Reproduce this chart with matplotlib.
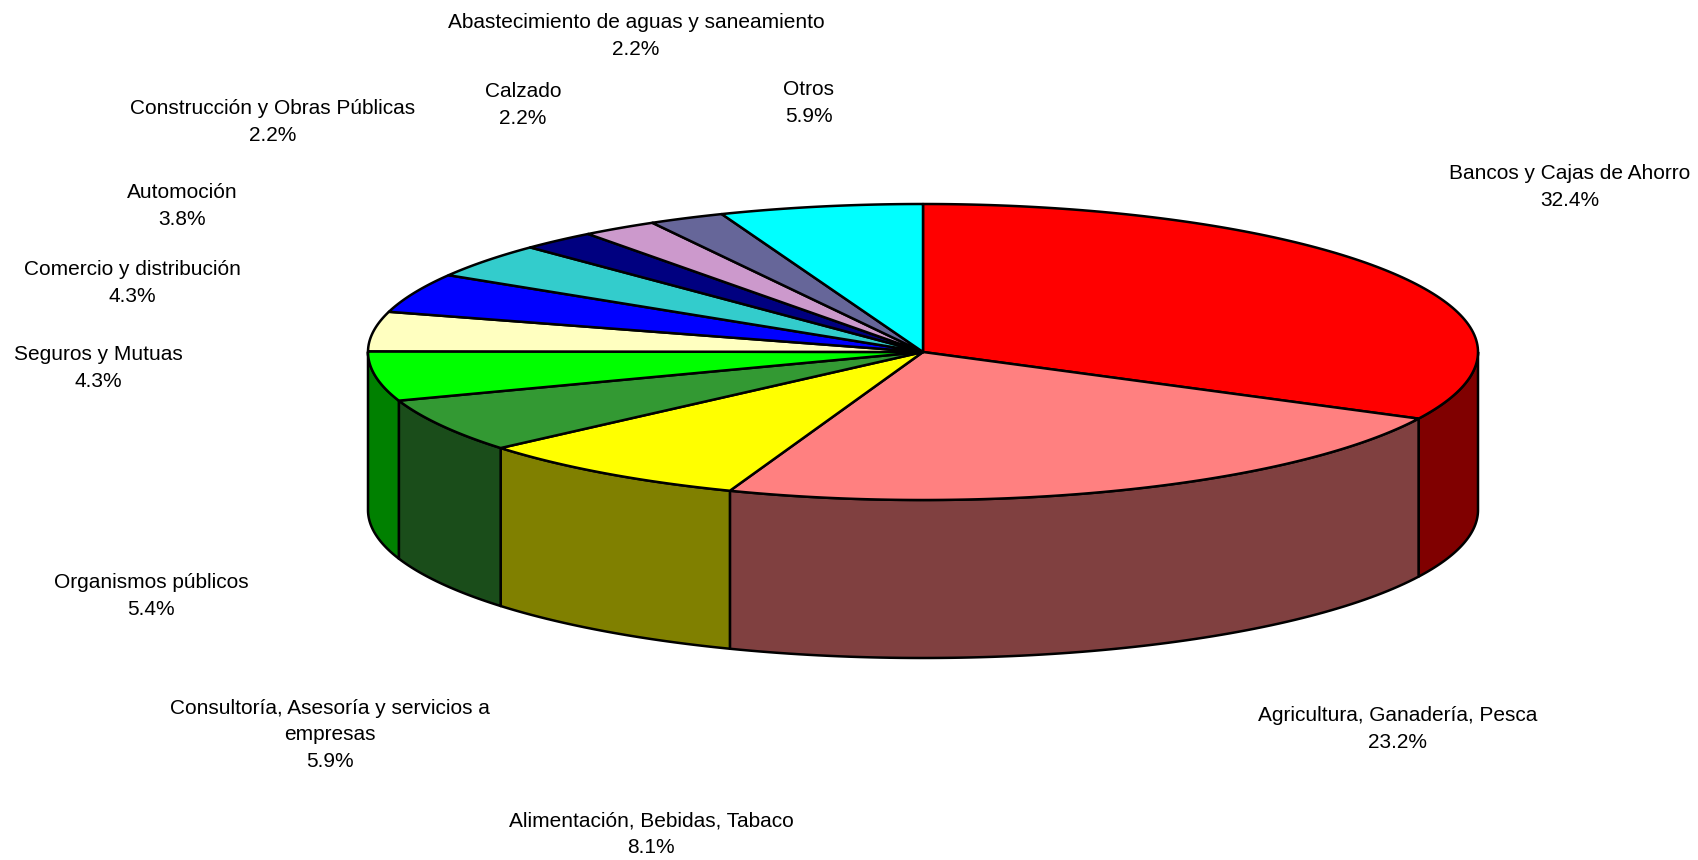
import numpy as np
import matplotlib
matplotlib.use('Agg')
import matplotlib.pyplot as plt
from matplotlib.colors import to_rgb
from matplotlib.patches import Polygon

# Data (clockwise from 12 o'clock)
sectors = ['Bancos y Cajas de Ahorro', 'Agricultura, Ganadería, Pesca',
           'Alimentación, Bebidas, Tabaco',
           'Consultoría, Asesoría y servicios a\nempresas',
           'Organismos públicos', 'Seguros y Mutuas', 'Comercio y distribución',
           'Automoción', 'Construcción y Obras Públicas', 'Calzado',
           'Abastecimiento de aguas y saneamiento', 'Otros']
shares = [32.4, 23.2, 8.1, 5.9, 5.4, 4.3, 4.3, 3.8, 2.2, 2.2, 2.2, 5.9]
colors = ['#FF0000', '#FF8080', '#FFFF00', '#339933', '#00FF00', '#FFFFC0',
          '#0000FF', '#33CCCC', '#000080', '#CC99CC', '#666699', '#00FFFF']

# label centres in pixel coords
label_pos = [(1570, 187), (1398, 729), (651, 834), (330, 735), (151, 596),
             (98, 368), (132, 283), (182, 206), (273, 122), (523, 105),
             (636, 36), (809, 103)]

# pie geometry (pixels)
cx, cy = 923, 352
rx, ry = 555, 148
depth = 158
lw = 1.8

W, H = 1699, 860
fig = plt.figure(figsize=(W / 100, H / 100), dpi=100, facecolor='w')
ax = fig.add_axes([0, 0, 1, 1])
ax.set_xlim(0, W)
ax.set_ylim(H, 0)
ax.axis('off')


def pt(theta, dy=0.0):
    # theta in degrees, clockwise from top
    t = np.radians(theta)
    return cx + rx * np.sin(t), cy - ry * np.cos(t) + dy


total = sum(shares)
bounds = np.concatenate([[0], np.cumsum(shares) / total * 360.0])

# side faces (front half only: 90..270 deg)
for i in range(len(shares)):
    a0, a1 = max(bounds[i], 90), min(bounds[i + 1], 270)
    if a1 <= a0:
        continue
    th = np.linspace(a0, a1, 80)
    xs, ys = pt(th)
    xb, yb = pt(th[::-1], depth)
    verts = np.column_stack([np.concatenate([xs, xb]), np.concatenate([ys, yb])])
    side = tuple(0.5 * c for c in to_rgb(colors[i]))
    ax.add_patch(Polygon(verts, closed=True, facecolor=side, edgecolor='k',
                         lw=lw, joinstyle='round', zorder=2))

# top faces
for i in range(len(shares)):
    th = np.linspace(bounds[i], bounds[i + 1], 120)
    xs, ys = pt(th)
    verts = np.column_stack([np.concatenate([[cx], xs]), np.concatenate([[cy], ys])])
    ax.add_patch(Polygon(verts, closed=True, facecolor=colors[i], edgecolor='k',
                         lw=lw, joinstyle='round', zorder=3))

# labels
for name, val, (lx, ly) in zip(sectors, shares, label_pos):
    ax.text(lx, ly, '{}\n{:.1f}%'.format(name, val), ha='center', va='center',
            multialignment='center', fontsize=15, linespacing=1.47,
            family='Liberation Sans', color='k', zorder=5)

fig.savefig('out.png', dpi=100, facecolor='w')
